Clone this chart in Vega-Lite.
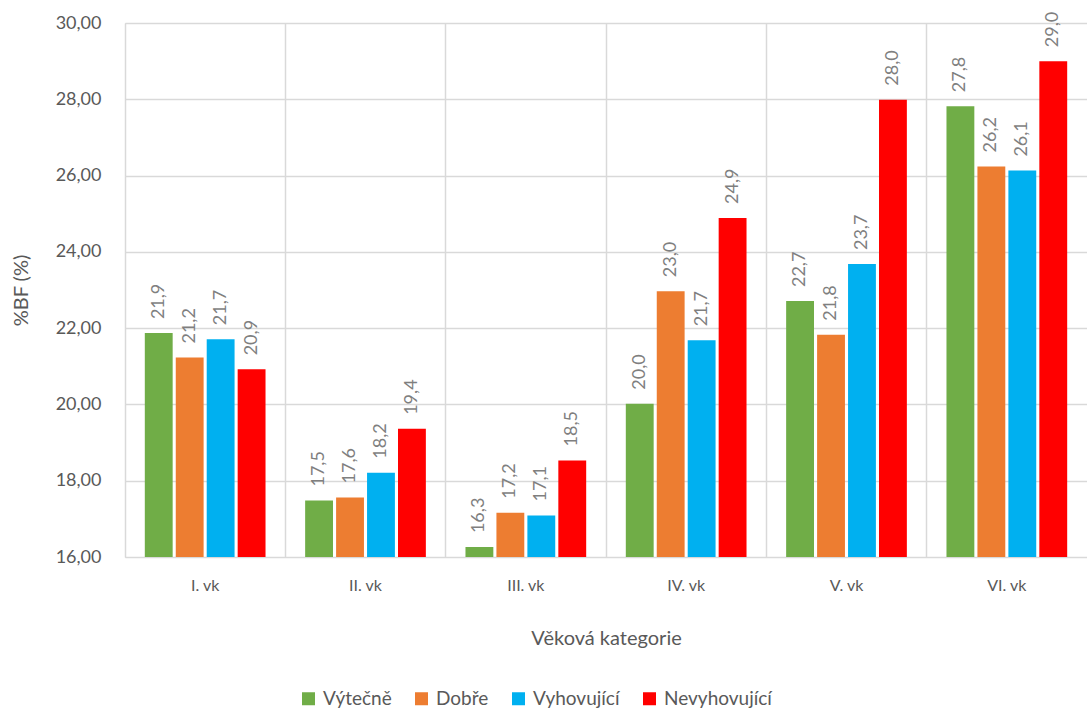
{
  "$schema": "https://vega.github.io/schema/vega-lite/v6.json",
  "width": 962,
  "height": 534,
  "autosize": {"type": "none"},
  "padding": {"left": 125, "top": 23, "right": 0, "bottom": 152},
  "config": {
    "locale": {"number": {"decimal": ",", "thousands": "\u00a0", "grouping": [3], "currency": ["", " Kč"]}},
    "view": {"stroke": "#d9d9d9", "strokeWidth": 1},
    "font": "Lato"
  },
  "data": {
    "values": [
      {"kat": "I. vk", "skupina": "Výtečně", "value": 21.87},
      {"kat": "I. vk", "skupina": "Dobře", "value": 21.23},
      {"kat": "I. vk", "skupina": "Vyhovující", "value": 21.71},
      {"kat": "I. vk", "skupina": "Nevyhovující", "value": 20.92},
      {"kat": "II. vk", "skupina": "Výtečně", "value": 17.48},
      {"kat": "II. vk", "skupina": "Dobře", "value": 17.56},
      {"kat": "II. vk", "skupina": "Vyhovující", "value": 18.21},
      {"kat": "II. vk", "skupina": "Nevyhovující", "value": 19.36},
      {"kat": "III. vk", "skupina": "Výtečně", "value": 16.26},
      {"kat": "III. vk", "skupina": "Dobře", "value": 17.16},
      {"kat": "III. vk", "skupina": "Vyhovující", "value": 17.09},
      {"kat": "III. vk", "skupina": "Nevyhovující", "value": 18.53},
      {"kat": "IV. vk", "skupina": "Výtečně", "value": 20.02},
      {"kat": "IV. vk", "skupina": "Dobře", "value": 22.97},
      {"kat": "IV. vk", "skupina": "Vyhovující", "value": 21.68},
      {"kat": "IV. vk", "skupina": "Nevyhovující", "value": 24.89},
      {"kat": "V. vk", "skupina": "Výtečně", "value": 22.71},
      {"kat": "V. vk", "skupina": "Dobře", "value": 21.83},
      {"kat": "V. vk", "skupina": "Vyhovující", "value": 23.68},
      {"kat": "V. vk", "skupina": "Nevyhovující", "value": 27.99},
      {"kat": "VI. vk", "skupina": "Výtečně", "value": 27.82},
      {"kat": "VI. vk", "skupina": "Dobře", "value": 26.24},
      {"kat": "VI. vk", "skupina": "Vyhovující", "value": 26.13},
      {"kat": "VI. vk", "skupina": "Nevyhovující", "value": 29.0}
    ]
  },
  "encoding": {
    "x": {
      "field": "kat",
      "type": "nominal",
      "sort": ["I. vk", "II. vk", "III. vk", "IV. vk", "V. vk", "VI. vk"],
      "scale": {"paddingInner": 0, "paddingOuter": 0},
      "axis": {
        "title": "Věková kategorie",
        "labelAngle": 0,
        "grid": true,
        "bandPosition": 0,
        "gridColor": "#d9d9d9",
        "gridWidth": 1.5,
        "domain": false,
        "ticks": false,
        "labelPadding": 20,
        "labelFontSize": 16,
        "labelColor": "#595959",
        "titleFontSize": 20,
        "titleColor": "#595959",
        "titleFontWeight": "normal",
        "titlePadding": 35
      }
    },
    "xOffset": {
      "field": "skupina",
      "type": "nominal",
      "sort": ["Výtečně", "Dobře", "Vyhovující", "Nevyhovující"],
      "scale": {"paddingInner": 0.1, "paddingOuter": 0.64}
    },
    "y": {
      "field": "value",
      "type": "quantitative",
      "scale": {"domain": [16, 30]},
      "axis": {
        "title": "%BF (%)",
        "values": [16, 18, 20, 22, 24, 26, 28, 30],
        "format": ".2f",
        "grid": true,
        "gridColor": "#d9d9d9",
        "gridWidth": 1.5,
        "domain": false,
        "ticks": false,
        "labelPadding": 24,
        "labelFontSize": 18,
        "labelColor": "#595959",
        "titleFontSize": 20,
        "titleColor": "#595959",
        "titleFontWeight": "normal",
        "titlePadding": 24
      }
    }
  },
  "layer": [
    {
      "mark": {"type": "bar", "clip": true},
      "encoding": {
        "color": {
          "field": "skupina",
          "type": "nominal",
          "scale": {
            "domain": ["Výtečně", "Dobře", "Vyhovující", "Nevyhovující"],
            "range": ["#70AD47", "#ED7D31", "#00B0F0", "#FF0000"]
          },
          "legend": {
            "title": null,
            "orient": "none",
            "legendX": 174,
            "legendY": 666,
            "direction": "horizontal",
            "symbolType": "square",
            "symbolSize": 169,
            "symbolStrokeWidth": 0,
            "labelFontSize": 19,
            "labelColor": "#595959",
            "labelOffset": 5,
            "columnPadding": 20
          }
        }
      }
    },
    {
      "mark": {"type": "text", "angle": 270, "align": "left", "baseline": "middle", "dx": 14, "fontSize": 18, "color": "#7f7f7f"},
      "encoding": {
        "text": {"field": "value", "type": "quantitative", "format": ".1f"}
      }
    }
  ]
}
